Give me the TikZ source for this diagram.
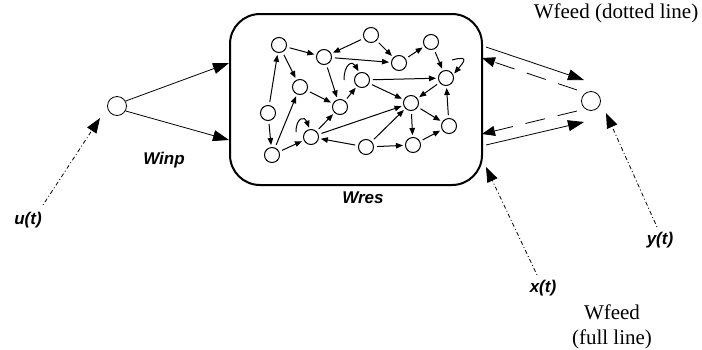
\documentclass[tikz,border=0pt]{standalone}
\usepackage{fontspec}
\setmainfont{Liberation Serif}
\setsansfont{Liberation Sans}
\usetikzlibrary{arrows.meta}
\begin{document}
\begin{tikzpicture}[x=1pt,y=-1pt,
  rn/.style={circle,draw,line width=1pt,minimum size=15pt,inner sep=0pt},
  io/.style={circle,draw,line width=0.8pt,minimum size=19pt,inner sep=0pt},
  ia/.style={-{Triangle[length=7pt,width=5.5pt]},line width=1pt,shorten >=2pt,shorten <=3pt},
  la/.style={-{Triangle[length=7pt,width=5.5pt]},line width=1pt,shorten >=1.5pt},
  oa/.style={-{Triangle[length=16pt,width=11pt]},line width=0.8pt},
  da/.style={-{Triangle[length=13pt,width=10pt]},line width=0.8pt,dash pattern=on 20pt off 13pt},
  dt/.style={-{Triangle[length=15pt,width=11pt]},line width=0.8pt,dash pattern=on 1pt off 2.5pt on 4pt off 2.5pt},
  lab/.style={font=\fontsize{17}{19}\selectfont\sffamily\bfseries\itshape},
  ser/.style={font=\fontsize{21}{25}\selectfont\rmfamily}]
\useasboundingbox (0,0) rectangle (702,349);
% reservoir box
\draw[line width=2pt,rounded corners=30pt] (230,14) rectangle (482,185);
% reservoir nodes
\node[rn] (n1) at (279,45) {};
\node[rn] (n2) at (371,35) {};
\node[rn] (n3) at (324,57) {};
\node[rn] (n4) at (431,42) {};
\node[rn] (n5) at (399,63) {};
\node[rn] (n6) at (362,80) {};
\node[rn] (n7) at (446,78) {};
\node[rn] (n8) at (300,87) {};
\node[rn] (n9) at (340,107) {};
\node[rn] (n10) at (411,103) {};
\node[rn] (n11) at (268,113) {};
\node[rn] (n12) at (449,126) {};
\node[rn] (n13) at (311,137) {};
\node[rn] (n14) at (366,147) {};
\node[rn] (n15) at (413,145) {};
\node[rn] (n16) at (272,155) {};
% reservoir edges
\draw[ia] (n2) -- (n3);
\draw[ia] (n2) -- (n5);
\draw[ia] (n1) -- (n3);
\draw[ia] (n1) -- (n8);
\draw[ia] (n3) -- (n5);
\draw[ia] (n5) -- (n4);
\draw[ia] (n4) -- (n7);
\draw[ia] (n6) -- (n7);
\draw[ia] (n6) -- (n10);
\draw[ia] (n7) -- (n10);
\draw[ia] (n3) -- (n9);
\draw[ia] (n8) -- (n9);
\draw[ia] (n9) -- (n6);
\draw[ia] (n11) -- (n1);
\draw[ia] (n11) -- (n16);
\draw[ia] (n16) -- (n8);
\draw[ia] (n16) -- (n13);
\draw[ia] (n13) -- (n9);
\draw[ia] (n13) -- (n10);
\draw[ia] (n14) -- (n13);
\draw[ia] (n14) -- (n10);
\draw[ia] (n14) -- (n15);
\draw[ia] (n10) -- (n15);
\draw[ia] (n10) -- (n12);
\draw[ia] (n15) -- (n12);
\draw[ia] (n12) -- (n7);
% self loops (y axis flipped: screen angle a -> canvas angle -a)
\draw[la] ([xshift=-10pt]n6.west) .. controls +(-90:16) and +(-120:14) .. (n6.110);
\draw[la] ([xshift=-7pt,yshift=5pt]n13.west) .. controls +(-90:15) and +(-110:14) .. (n13.100);
\draw[la] ([xshift=6pt,yshift=10pt]n7.north) .. controls +(-15:18) and +(-50:17) .. (n7.25);
% input / output nodes
\node[io] (in) at (117,106) {};
\node[io] (out) at (591,101) {};
\coordinate (bi1) at (229,63);
\coordinate (bi2) at (229,140);
\coordinate (bo1) at (486,47);
\coordinate (bo2) at (486,145);
\coordinate (bd1) at (482,58);
\coordinate (bd2) at (482,134);
\coordinate (ou1) at (584,80);
\coordinate (ou2) at (584,122);
\coordinate (od1) at (577,90);
\coordinate (od2) at (577,111);
\draw[oa] (in.30) -- (bi1);
\draw[oa] (in.-30) -- (bi2);
\draw[oa] (bo1) -- (ou1);
\draw[oa] (bo2) -- (ou2);
\draw[da] (od1) -- (bd1);
\draw[da] (od2) -- (bd2);
% labels
\node[lab] (winp) at (164,160) {Winp};
\node[lab] (wres) at (363,198) {Wres};
\node[lab] (u) at (28,220) {u(t)};
\node[lab] (y) at (660,240) {y(t)};
\node[lab] (x) at (543,288) {x(t)};
\coordinate (ue) at (43,205);
\coordinate (ua) at (100,118);
\coordinate (ye) at (657,227);
\coordinate (ya) at (606,113);
\coordinate (xe) at (537,275);
\coordinate (xa) at (486,167);
\draw[dt] (ue) -- (ua);
\draw[dt] (ye) -- (ya);
\draw[dt] (xe) -- (xa);
\node[ser] (wf1) at (616,13) {Wfeed (dotted line)};
\node[ser,align=center] (wf2) at (612,327) {Wfeed\\(full line)};
\end{tikzpicture}
\end{document}
